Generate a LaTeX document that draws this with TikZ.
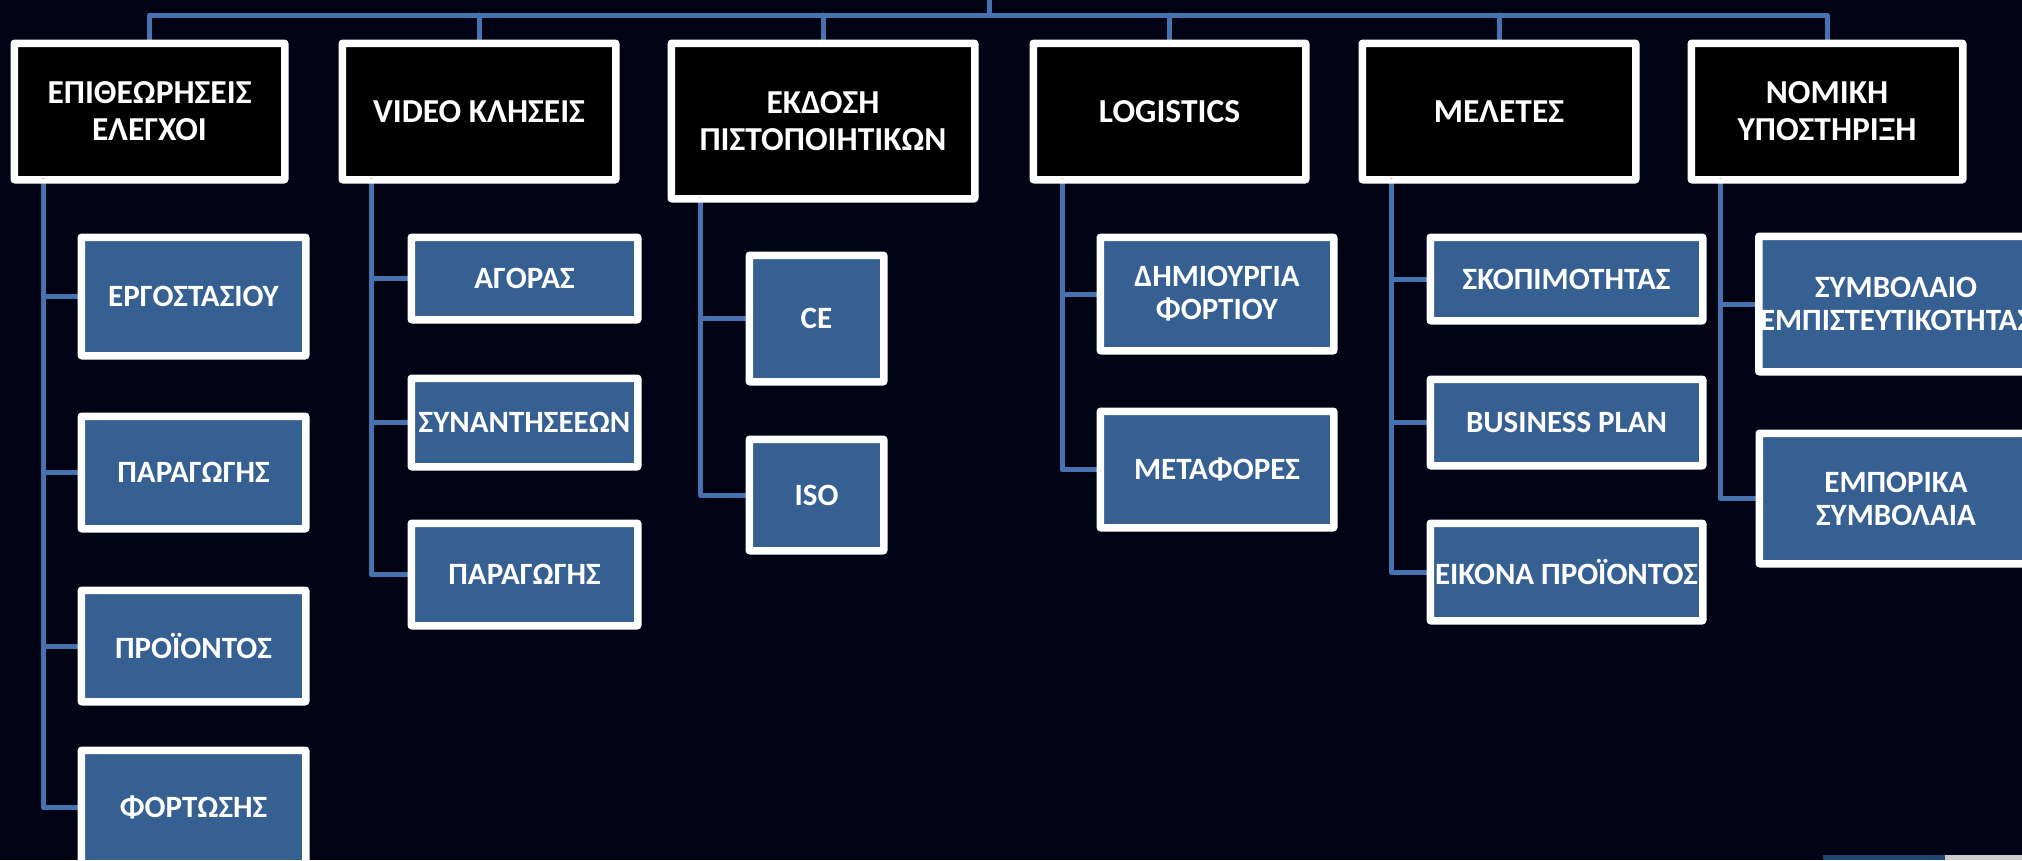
\documentclass[tikz,border=0pt]{standalone}
\usepackage{fontspec}
\setmainfont{Carlito}
\usetikzlibrary{calc}
\definecolor{bgnavy}{RGB}{2,3,20}
\definecolor{connblue}{RGB}{70,114,176}
\definecolor{leafblue}{RGB}{54,96,146}
\definecolor{slivteal}{RGB}{30,70,110}
\definecolor{slivgray}{RGB}{205,205,205}
\tikzset{
  boxbase/.style={draw=white, line width=5pt, rounded corners=2pt, text=white, align=center, inner sep=0pt},
  head/.style={boxbase, fill=black, font=\fontsize{33.5}{37}\selectfont\bfseries},
  leaf/.style={boxbase, fill=leafblue, font=\fontsize{31}{33}\selectfont\bfseries},
  conn/.style={draw=connblue, line width=5pt, line join=round, line cap=round},
  bw/.style={minimum width=#1pt-5pt},
  bh/.style={minimum height=#1pt-5pt}
}
\begin{document}
\begin{tikzpicture}[x=1pt,y=-1pt]
\useasboundingbox (0,0) rectangle (2022,860);
\fill[bgnavy] (0,0) rectangle (2022,860);
\clip (0,0) rectangle (2022,860);

% heads
\node[head, bw=273, bh=139] (h1) at (149.5,111.5) {ΕΠΙΘΕΩΡΗΣΕΙΣ\\ΕΛΕΓΧΟΙ};
\node[head, bw=276, bh=139] (h2) at (479,111.5) {VIDEO ΚΛΗΣΕΙΣ};
\node[head, bw=306, bh=158] (h3) at (823,121) {ΕΚΔΟΣΗ\\ΠΙΣΤΟΠΟΙΗΤΙΚΩΝ};
\node[head, bw=275, bh=139] (h4) at (1169.5,111.5) {LOGISTICS};
\node[head, bw=276, bh=139] (h5) at (1499,111.5) {ΜΕΛΕΤΕΣ};
\node[head, bw=274, bh=139] (h6) at (1827,111.5) {ΝΟΜΙΚΗ\\ΥΠΟΣΤΗΡΙΞΗ};

% column 1
\node[leaf, bw=227, bh=121] (c1a) at (193.5,296.5) {ΕΡΓΟΣΤΑΣΙΟΥ};
\node[leaf, bw=227, bh=115] (c1b) at (193.5,472.5) {ΠΑΡΑΓΩΓΗΣ};
\node[leaf, bw=227, bh=114] (c1c) at (193.5,646) {ΠΡΟΪΟΝΤΟΣ};
\node[leaf, bw=227, bh=116] (c1d) at (193.5,807) {ΦΟΡΤΩΣΗΣ};
% column 2
\node[leaf, bw=229, bh=85] (c2a) at (524.5,278.5) {ΑΓΟΡΑΣ};
\node[leaf, bw=229, bh=91] (c2b) at (524.5,422.5) {ΣΥΝΑΝΤΗΣΕΕΩΝ};
\node[leaf, bw=229, bh=105] (c2c) at (524.5,574.5) {ΠΑΡΑΓΩΓΗΣ};
% column 3
\node[leaf, bw=137, bh=129] (c3a) at (816.5,318.5) {CE};
\node[leaf, bw=137, bh=114] (c3b) at (816.5,495) {ISO};
% column 4
\node[leaf, bw=236, bh=116] (c4a) at (1217,294) {ΔΗΜΙΟΥΡΓΙΑ\\ΦΟΡΤΙΟΥ};
\node[leaf, bw=236, bh=119] (c4b) at (1217,469.5) {ΜΕΤΑΦΟΡΕΣ};
% column 5
\node[leaf, bw=275, bh=86] (c5a) at (1566.5,279) {ΣΚΟΠΙΜΟΤΗΤΑΣ};
\node[leaf, bw=275, bh=89] (c5b) at (1566.5,422.5) {BUSINESS PLAN};
\node[leaf, bw=275, bh=100] (c5c) at (1566.5,572) {ΕΙΚΟΝΑ ΠΡΟΪΟΝΤΟΣ};
% column 6
\node[leaf, bw=276, bh=138] (c6a) at (1896,304) {ΣΥΜΒΟΛΑΙΟ\\ΕΜΠΙΣΤΕΥΤΙΚΟΤΗΤΑΣ};
\node[leaf, bw=276, bh=133] (c6b) at (1896,498.5) {ΕΜΠΟΡΙΚΑ\\ΣΥΜΒΟΛΑΙΑ};

% top bus
\coordinate (bus) at (0,15);
\coordinate (root) at (989,-5);
\draw[conn] (root) -- (root |- bus);
\draw[conn] (h1.north) -- (h1.north |- bus) -- (h6.north |- bus) -- (h6.north);
\foreach \h in {h2,h3,h4,h5} \draw[conn] (\h.north) -- (\h.north |- bus);

% column connectors
\foreach \h/\kids in {h1/{c1a,c1b,c1c,c1d}, h2/{c2a,c2b,c2c}, h3/{c3a,c3b}, h4/{c4a,c4b}, h5/{c5a,c5b,c5c}, h6/{c6a,c6b}} {
  \foreach \k in \kids {
    \draw[conn] ($(\h.south west)+(30,0)$) |- (\k.west);
  }
}

% redraw box borders on top of connectors
\foreach \n in {h1,h2,h3,h4,h5,h6,c1a,c1b,c1c,c1d,c2a,c2b,c2c,c3a,c3b,c4a,c4b,c5a,c5b,c5c,c6a,c6b} {
  \draw[white, line width=5pt, rounded corners=2pt] (\n.south west) rectangle (\n.north east);
}

% partial object at bottom right
\fill[slivteal] (1823,855) rectangle (1945,860);
\fill[slivgray] (1945,855) rectangle (2022,860);
\end{tikzpicture}
\end{document}
